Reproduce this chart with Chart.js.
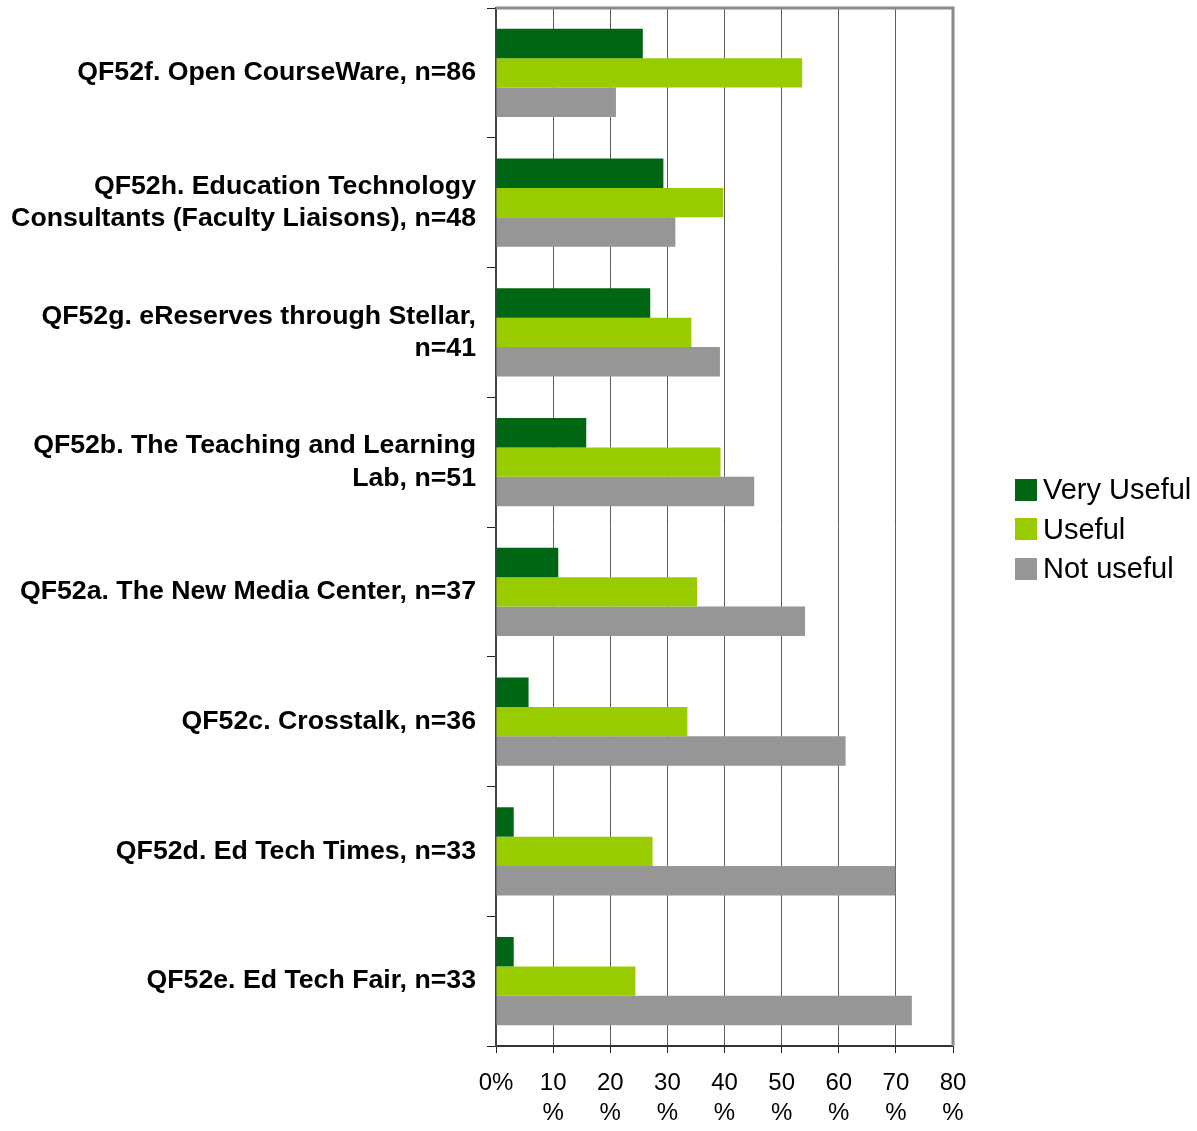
<!DOCTYPE html>
<html>
<head>
<meta charset="utf-8">
<script src="https://cdn.jsdelivr.net/npm/chart.js@4/dist/chart.umd.min.js"></script>
<style>
  body { margin: 0; background: #fff; }
  #wrap { position: relative; width: 1197px; height: 1131px; }
  #legend { position: absolute; left: 1015px; top: 470px; font-family: "Liberation Sans", Arial, sans-serif; font-size: 29px; color: #000; }
  #legend div { display: flex; align-items: center; height: 39.5px; white-space: nowrap; }
  #legend span.box { display: inline-block; width: 22px; height: 22px; margin-right: 6px; }
</style>
</head>
<body>
<div id="wrap">
  <canvas id="chart" width="1197" height="1131"></canvas>
  <div id="legend"></div>
</div>
<script>
const categories = [
  "QF52f. Open CourseWare, n=86",
  ["QF52h. Education Technology", "Consultants (Faculty Liaisons), n=48"],
  ["QF52g. eReserves through Stellar,", "n=41"],
  ["QF52b. The Teaching and Learning", "Lab, n=51"],
  "QF52a. The New Media Center, n=37",
  "QF52c. Crosstalk, n=36",
  "QF52d. Ed Tech Times, n=33",
  "QF52e. Ed Tech Fair, n=33"
];

const seriesNames = ["Very Useful", "Useful", "Not useful"];
const seriesColors = ["#006613", "#99cc00", "#969696"];

const veryUseful = [25.7, 29.3, 27.0, 15.8, 10.9, 5.7, 3.1, 3.1];
const useful     = [53.6, 39.8, 34.2, 39.3, 35.2, 33.5, 27.4, 24.4];
const notUseful  = [21.0, 31.4, 39.2, 45.2, 54.1, 61.2, 69.9, 72.8];

const xTicks = [0, 10, 20, 30, 40, 50, 60, 70, 80];

const ctx = document.getElementById("chart").getContext("2d");
const FONT = "'Liberation Sans', Arial, sans-serif";

// grey frame along the top and right of the plot, as in the original
const frame = {
  id: "frame",
  afterDatasetsDraw(chart) {
    const a = chart.chartArea;
    const c = chart.ctx;
    c.save();
    c.strokeStyle = "#8a8a8a";
    c.lineWidth = 3;
    c.beginPath();
    c.moveTo(a.left, a.top);
    c.lineTo(a.right, a.top);
    c.lineTo(a.right, a.bottom);
    c.stroke();
    c.restore();
  }
};

const chart = new Chart(ctx, {
  type: "bar",
  data: {
    labels: categories,
    datasets: [veryUseful, useful, notUseful].map((d, i) => ({
      label: seriesNames[i],
      data: d,
      backgroundColor: seriesColors[i],
      borderWidth: 0,
      barPercentage: 1.0,
      categoryPercentage: 0.68
    }))
  },
  options: {
    indexAxis: "y",
    responsive: false,
    animation: false,
    layout: { padding: { left: 0, top: 8, right: 244, bottom: 0 } },
    plugins: {
      legend: { display: false },
      tooltip: { enabled: false }
    },
    scales: {
      x: {
        min: 0,
        max: 80,
        afterBuildTicks(axis) {
          axis.ticks = xTicks.map(v => ({ value: v }));
        },
        afterFit(axis) { axis.height = 85; },
        border: { color: "#333", width: 2 },
        grid: {
          color: "#5e5e5e",
          lineWidth: 1,
          tickLength: 7,
          tickColor: "#222"
        },
        ticks: {
          padding: 15,
          maxRotation: 0,
          color: "#000",
          font: { family: FONT, size: 24, lineHeight: 1.25 },
          callback: v => v === 0 ? "0%" : [String(v), "%"]
        }
      },
      y: {
        afterFit(axis) {
          axis.width = 496;
          axis.paddingTop = 0;
          axis.paddingBottom = 0;
        },
        border: { color: "#444", width: 2 },
        grid: {
          offset: true,
          drawOnChartArea: false,
          tickLength: 9,
          tickColor: "#222"
        },
        ticks: {
          padding: 11,
          color: "#000",
          font: { family: FONT, size: 26.7, weight: "bold", lineHeight: 1.2 }
        }
      }
    }
  },
  plugins: [frame]
});

const legend = document.getElementById("legend");
chart.data.datasets.forEach(ds => {
  const row = document.createElement("div");
  const box = document.createElement("span");
  box.className = "box";
  box.style.background = ds.backgroundColor;
  row.appendChild(box);
  row.appendChild(document.createTextNode(ds.label));
  legend.appendChild(row);
});
</script>
</body>
</html>
